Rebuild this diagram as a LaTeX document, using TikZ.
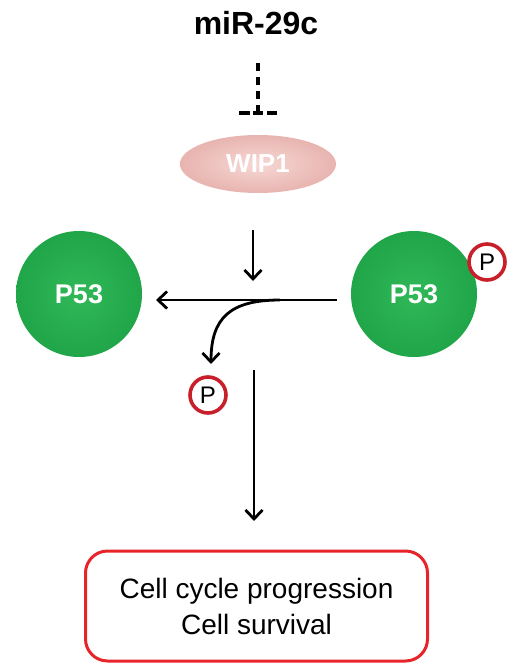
\documentclass[tikz,border=0pt]{standalone}
\usepackage{fontspec}
\setmainfont{Liberation Sans}
\usetikzlibrary{arrows.meta,shapes.geometric}
\definecolor{pgreenL}{HTML}{30B858}
\definecolor{pgreenD}{HTML}{20A649}
\definecolor{wpink}{HTML}{E8B4B0}
\definecolor{wpinkL}{HTML}{F6D8D5}
\definecolor{pred}{HTML}{C8202A}
\definecolor{bred}{HTML}{E8242B}
\tikzset{
  x=1pt,y=-1pt,
  conn/.style={line width=2.8pt,draw=black,-{Straight Barb[length=9pt,width=17pt,line width=2.8pt]}},
  ball/.style={circle,minimum size=126pt,inner sep=0pt,
    inner color=pgreenL,outer color=pgreenD,text=white,
    font=\fontsize{27}{30}\selectfont\bfseries},
  phos/.style={circle,minimum size=36pt,inner sep=0pt,draw=pred,line width=3.6pt,fill=white,
    font=\fontsize{24}{26}\selectfont},
  inhib/.style={line width=3.6pt},
}
\begin{document}
\begin{tikzpicture}
\useasboundingbox (0,0) rectangle (510,664);
\node[font=\fontsize{32}{34}\selectfont\bfseries] (mir) at (256,23) {miR-29c};
\node[ellipse,minimum width=156pt,minimum height=58pt,inner sep=0pt,
  inner color=wpinkL,outer color=wpink,text=white,
  font=\fontsize{26}{28}\selectfont\bfseries] (wip) at (258,164) {WIP1};
\coordinate (dtop) at (258,63);
\coordinate (dbot) at (258,113);
\coordinate (barL) at (239,113);
\coordinate (barR) at (277,113);
\draw[inhib,dash pattern=on 8pt off 6pt] (dtop) -- (dbot);
\draw[inhib,dash pattern=on 11pt off 3pt on 10pt off 4pt on 10pt] (barL) -- (barR);
\node[ball] (p53l) at (79,294) {P53};
\node[ball] (p53r) at (414,294) {P53};
\node[phos] (pr) at (487,262) {P};
\node[phos] (pl) at (208,395) {P};
\coordinate (a1s) at (253,230);
\coordinate (a1e) at (253,281);
\draw[conn] (a1s) -- (a1e);
\coordinate (hs) at (337,300);
\coordinate (he) at (156,300);
\draw[conn] (hs) -- (he);
\coordinate (cs) at (280,300);
\coordinate (ce) at (211,364);
\draw[conn] (cs) .. controls (230,300) and (211,318) .. (ce);
\coordinate (vs) at (254,370);
\coordinate (ve) at (254,521);
\draw[conn] (vs) -- (ve);
\node[draw=bred,line width=3pt,rounded corners=22pt,minimum width=342pt,minimum height=110pt,
  font=\fontsize{28}{36}\selectfont,align=center] (box) at (256.5,606) {Cell cycle progression\\Cell survival};
\end{tikzpicture}
\end{document}
